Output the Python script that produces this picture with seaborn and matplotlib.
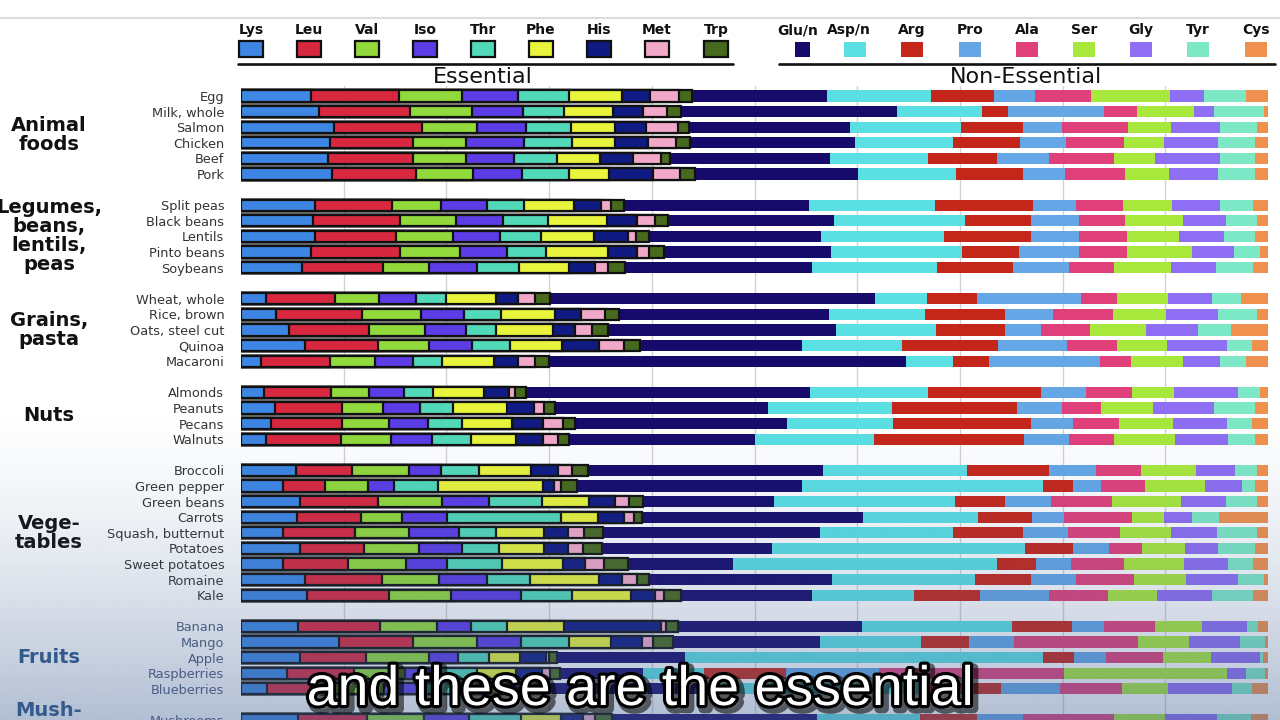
import numpy as np
import pandas as pd
import matplotlib
matplotlib.use("Agg")
import matplotlib.pyplot as plt
import seaborn as sns
from matplotlib.patches import Rectangle
from matplotlib.lines import Line2D
import matplotlib.patheffects as pe
import matplotlib.transforms as mtrans

# ---------------- data ----------------
groups = ["Animal\nfoods", "Legumes,\nbeans,\nlentils,\npeas", "Grains,\npasta", "Nuts",
          "Vege-\ntables", "Fruits", "Mush-\nrooms"]
group_sizes = [6, 5, 5, 4, 9, 5, 1]
foods = ["Egg", "Milk, whole", "Salmon", "Chicken", "Beef", "Pork",
         "Split peas", "Black beans", "Lentils", "Pinto beans", "Soybeans",
         "Wheat, whole", "Rice, brown", "Oats, steel cut", "Quinoa", "Macaroni",
         "Almonds", "Peanuts", "Pecans", "Walnuts",
         "Broccoli", "Green pepper", "Green beans", "Carrots", "Squash, butternut",
         "Potatoes", "Sweet potatoes", "Romaine", "Kale",
         "Banana", "Mango", "Apple", "Raspberries", "Blueberries",
         "Mushrooms"]

essential = ["Lys", "Leu", "Val", "Iso", "Thr", "Phe", "His", "Met", "Trp"]
nonessential = ["Glu/n", "Asp/n", "Arg", "Pro", "Ala", "Ser", "Gly", "Tyr", "Cys"]

lys = [6.8, 7.6, 9.1, 8.7, 8.5, 8.9, 7.2, 7.0, 7.2, 6.8, 5.9, 2.4, 3.4, 4.7, 6.2, 2.0,
       2.2, 3.3, 2.9, 2.4, 5.4, 4.1, 5.8, 5.5, 4.1, 5.8, 4.1, 6.2, 6.4, 5.6, 9.6, 5.8, 4.5, 2.5, 5.0]
leu = [8.6, 8.9, 8.6, 8.0, 8.2, 8.2, 7.5, 8.5, 7.9, 8.7, 7.9, 6.8, 8.4, 7.8, 7.1, 6.7,
       6.6, 6.5, 6.9, 7.3, 5.5, 4.1, 7.6, 6.2, 7.0, 6.2, 6.4, 7.6, 8.0, 8.0, 7.3, 6.4, 6.5, 6.5, 6.0]
val = [6.1, 6.1, 5.3, 5.2, 5.2, 5.5, 4.8, 5.5, 5.5, 5.8, 4.5, 4.3, 5.8, 5.5, 5.0, 4.4,
       3.7, 4.0, 4.6, 4.9, 5.5, 4.2, 6.2, 4.0, 5.3, 5.4, 5.6, 5.5, 6.1, 5.6, 6.2, 6.2, 5.0, 5.0, 5.0]
iso = [5.5, 4.9, 4.8, 5.7, 4.7, 4.8, 4.5, 4.6, 4.6, 4.6, 4.7, 3.6, 4.2, 4.0, 4.2, 3.7,
       3.4, 3.6, 3.8, 4.0, 3.2, 2.5, 4.6, 4.4, 4.9, 4.2, 4.0, 4.7, 6.8, 3.3, 4.4, 2.9, 3.5, 4.0, 4.0]
thr = [4.9, 4.0, 4.4, 4.6, 4.2, 4.6, 3.6, 4.4, 4.0, 3.8, 4.1, 2.9, 3.6, 2.9, 3.7, 2.8,
       2.8, 3.3, 3.3, 3.8, 3.7, 4.3, 5.2, 11.1, 3.6, 3.6, 5.4, 4.2, 5.0, 3.5, 4.7, 3.0, 3.5, 3.5, 4.5]
phe = [5.2, 4.8, 4.3, 4.2, 4.2, 3.9, 4.9, 5.7, 5.2, 6.1, 4.9, 4.9, 5.2, 5.5, 5.0, 5.1,
       5.0, 5.2, 4.9, 4.4, 5.1, 10.2, 4.6, 3.6, 4.7, 4.4, 6.0, 6.7, 5.7, 5.6, 4.1, 3.0, 3.8, 3.8, 3.5]
his = [2.7, 3.0, 3.0, 3.2, 3.2, 4.3, 2.6, 2.9, 3.3, 2.8, 2.5, 2.2, 2.6, 2.2, 3.6, 2.4,
       2.4, 2.7, 3.0, 2.6, 2.6, 1.1, 2.5, 2.5, 2.3, 2.4, 2.1, 2.3, 2.4, 9.5, 3.0, 2.6, 2.5, 2.0, 2.0]
met = [2.8, 2.3, 3.1, 2.8, 2.7, 2.6, 1.0, 1.8, 0.8, 1.2, 1.3, 1.6, 2.3, 1.6, 2.5, 1.6,
       0.6, 0.9, 1.9, 1.5, 1.4, 0.7, 1.4, 1.0, 1.6, 1.4, 1.9, 1.4, 0.8, 0.5, 1.1, 0.3, 0.8, 1.2, 1.0]
trp = [1.3, 1.4, 1.1, 1.3, 0.9, 1.5, 1.2, 1.3, 1.2, 1.4, 1.6, 1.5, 1.4, 1.6, 1.5, 1.4,
       1.1, 1.1, 1.2, 1.1, 1.6, 1.5, 1.4, 0.8, 1.8, 1.9, 2.3, 1.2, 1.7, 1.2, 2.0, 0.8, 1.0, 1.0, 1.5]
glu = [13.2, 21.1, 15.7, 16.1, 15.6, 15.9, 18.1, 16.2, 16.8, 16.3, 18.3, 31.7, 20.5, 22.3, 15.8, 34.8,
       27.7, 20.8, 20.6, 18.1, 23.0, 21.9, 12.8, 21.5, 21.2, 16.6, 10.3, 17.9, 12.8, 18.0, 14.4, 12.5, 8.0, 17.0, 18.0]
asp = [10.1, 8.3, 10.8, 9.5, 9.5, 9.6, 12.2, 12.7, 12.0, 12.8, 12.1, 5.1, 9.3, 9.7, 9.7, 4.6,
       11.5, 12.1, 10.3, 11.6, 14.0, 23.5, 17.6, 11.2, 13.0, 24.7, 25.8, 13.9, 9.9, 14.6, 9.9, 35.1, 6.0, 20.0, 9.0]
arg = [6.1, 2.5, 6.1, 6.6, 6.7, 6.5, 9.6, 6.5, 8.4, 5.5, 7.4, 4.9, 7.8, 6.7, 9.3, 3.6,
       11.0, 12.1, 13.4, 14.6, 8.1, 2.9, 4.9, 5.3, 6.8, 4.7, 3.8, 5.5, 6.4, 5.9, 4.7, 3.0, 8.0, 7.8, 5.0]
pro = [4.0, 9.4, 3.8, 4.4, 5.1, 4.1, 4.2, 4.7, 4.7, 5.9, 5.5, 10.1, 4.7, 3.6, 6.7, 10.8,
       4.4, 4.4, 4.1, 4.4, 4.6, 2.7, 4.5, 3.1, 4.4, 3.6, 3.4, 4.4, 6.8, 3.2, 4.4, 3.1, 9.0, 5.8, 4.0]
ala = [5.5, 3.2, 6.4, 5.7, 6.3, 5.8, 4.6, 4.4, 4.7, 4.7, 4.4, 3.6, 5.9, 4.7, 4.9, 3.0,
       4.4, 3.8, 4.5, 4.4, 4.4, 4.3, 6.0, 6.6, 5.1, 3.2, 5.2, 5.6, 5.7, 4.9, 12.2, 5.6, 18.0, 6.0, 8.0]
ser = [7.7, 5.6, 4.2, 3.9, 4.0, 4.3, 4.7, 5.7, 5.0, 6.3, 5.5, 4.9, 5.1, 5.5, 4.9, 5.1,
       4.1, 5.1, 5.3, 5.9, 5.4, 5.9, 6.7, 3.2, 4.9, 4.2, 5.9, 5.1, 4.8, 4.6, 5.0, 4.7, 15.9, 4.5, 4.5]
gly = [3.3, 1.9, 4.8, 5.2, 6.3, 4.8, 4.7, 4.2, 4.4, 4.1, 4.4, 4.3, 5.1, 5.1, 5.8, 3.6,
       6.3, 5.9, 5.2, 5.2, 3.8, 3.6, 4.4, 2.7, 4.5, 3.2, 4.3, 5.1, 5.3, 4.4, 5.0, 4.8, 1.9, 6.3, 4.5]
tyr = [4.1, 4.9, 3.6, 3.6, 3.4, 3.6, 3.2, 3.0, 3.0, 2.5, 3.6, 2.9, 3.8, 3.2, 2.4, 2.6,
       2.1, 4.0, 2.4, 2.6, 2.1, 1.2, 3.0, 2.6, 3.9, 3.6, 2.4, 2.5, 4.0, 1.1, 2.4, 0.3, 1.8, 1.9, 3.0]
cys = [2.1, 0.4, 1.1, 1.3, 1.3, 1.3, 1.5, 1.1, 1.3, 0.8, 1.5, 2.6, 1.1, 3.6, 1.6, 2.1,
       0.8, 1.3, 1.6, 1.3, 1.1, 1.3, 1.1, 4.8, 1.1, 1.3, 1.5, 0.4, 1.5, 1.0, 0.3, 0.5, 0.3, 1.6, 1.5]

ess_colors = ["#3d86e3", "#d8283f", "#92d93c", "#5b3ce6", "#52d9b9",
              "#e8f53c", "#0f1a82", "#f2a9c9", "#486a1e"]
non_colors = ["#160b6b", "#5adfe3", "#c5261a", "#64a6e6", "#e0407a",
              "#a8e83c", "#8e6ef2", "#7de8c6", "#f0904e"]

# ---------------- setup ----------------
sns.set_theme(style="white")
plt.rcParams["font.family"] = ["DejaVu Sans"]

W, H = 1280, 720
fig = plt.figure(figsize=(W / 100, H / 100), dpi=100)
fig.patch.set_facecolor("white")


def fx(px):
    return px / W


def fy(py):
    return 1 - py / H


# row positions (one blank row between groups)
pos, centers = [], []
p = 0
for n in group_sizes:
    centers.append(p + (n - 1) / 2)
    pos.extend(range(p, p + n))
    p += n + 1

ROW_PX, Y0_PX, TOP_PX = 15.65, 96.0, 86.0
X0_PX, X1_PX = 241.0, 1268.0
ax = fig.add_axes([fx(X0_PX), 0, (X1_PX - X0_PX) / W, (H - TOP_PX) / H])
ax.set_facecolor("none")

series = [lys, leu, val, iso, thr, phe, his, met, trp,
          glu, asp, arg, pro, ala, ser, gly, tyr, cys]
colors = ess_colors + non_colors
M = np.array(series, dtype=float).T
M = M / M.sum(axis=1, keepdims=True) * 100
cum = np.cumsum(M, axis=1)

for k in range(len(series) - 1, -1, -1):
    df = pd.DataFrame({"pos": pos, "cum": cum[:, k]})
    is_ess = k < len(essential)
    sns.barplot(data=df, x="cum", y="pos", orient="h", native_scale=True,
                color=colors[k], saturation=1, errorbar=None, width=0.72,
                edgecolor="#111111" if is_ess else "none",
                linewidth=1.6 if is_ess else 0, ax=ax, zorder=2)

ax.set_xlim(0, 100)
ax.set_ylim((H - Y0_PX) / ROW_PX, -(Y0_PX - TOP_PX) / ROW_PX)
ax.set_xticks(np.arange(10, 100, 10))
ax.set_axisbelow(True)
ax.xaxis.grid(True, color="#d2d2d2", lw=1.0)
ax.yaxis.grid(False)
ax.tick_params(axis="x", length=0, labelbottom=False)
ax.set_yticks(pos)
ax.set_yticklabels(foods, fontsize=9.3)
n_fruit_start = sum(group_sizes[:5])
for i, t in enumerate(ax.get_yticklabels()):
    t.set_color("#4a5a7c" if i >= n_fruit_start else "#333333")
ax.tick_params(axis="y", length=0, pad=12)
ax.set_xlabel("")
ax.set_ylabel("")
for s in ax.spines.values():
    s.set_visible(False)

# group labels
blend = mtrans.blended_transform_factory(fig.transFigure, ax.transData)
for gi, (g, c) in enumerate(zip(groups, centers)):
    col = "#2a5588" if gi >= 5 else "#111111"
    ax.text(fx(49), c, g, transform=blend, ha="center", va="center",
            fontsize=14, fontweight="bold", linespacing=1.0, color=col)

# ---------------- legend ----------------
ess_x = [251, 309, 367, 425, 483, 541, 599, 657, 716]
non_x = [802, 855, 912, 970, 1027, 1084, 1141, 1198, 1256]
non_lab_x = [798, 849, 912, 970, 1027, 1084, 1141, 1198, 1256]
for name, x, col in zip(essential, ess_x, ess_colors):
    fig.text(fx(x), fy(30), name, ha="center", va="center", fontsize=10,
             fontweight="bold", color="#111111")
    fig.add_artist(Rectangle((fx(x - 12), fy(57)), 24 / W, 16 / H,
                             transform=fig.transFigure, facecolor=col,
                             edgecolor="#111111", lw=1.6))
for name, x, lx, col in zip(nonessential, non_x, non_lab_x, non_colors):
    fig.text(fx(lx), fy(30), name, ha="center", va="center", fontsize=10,
             fontweight="bold", color="#111111")
    w = 15 if name == "Glu/n" else 22
    fig.add_artist(Rectangle((fx(x - w / 2), fy(57)), w / W, 15 / H,
                             transform=fig.transFigure, facecolor=col,
                             edgecolor="none"))

fig.add_artist(Line2D([fx(238), fx(733)], [fy(64), fy(64)], color="#111111",
                      lw=1.9, transform=fig.transFigure))
fig.add_artist(Line2D([fx(779), fx(1275)], [fy(64), fy(64)], color="#111111",
                      lw=1.9, transform=fig.transFigure))
fig.add_artist(Line2D([0, 1], [fy(18), fy(18)], color="#dddddd",
                      lw=1.5, transform=fig.transFigure))
fig.text(fx(483), fy(77), "Essential", ha="center", va="center", fontsize=16,
         color="#111111")
fig.text(fx(1026), fy(77), "Non-Essential", ha="center", va="center", fontsize=16,
         color="#111111")

# ---------------- fading overlay toward the bottom ----------------
ov = fig.add_axes([0, 0, 1, 1], zorder=50)
ov.axis("off")
ys = np.arange(H)
alpha = 0.42 * np.clip((ys - 400) / 320.0, 0, 1) ** 1.5
img = np.zeros((H, 2, 4))
img[..., 0] = 70 / 255
img[..., 1] = 100 / 255
img[..., 2] = 150 / 255
img[..., 3] = alpha[:, None]
ov.imshow(img, aspect="auto", extent=[0, 1, 0, 1], origin="upper",
          interpolation="bilinear")
ov.set_xlim(0, 1)
ov.set_ylim(0, 1)

# subtitle caption
fig.text(fx(640), fy(705), "and these are the essential", ha="center",
         va="baseline", fontsize=40, color="white", zorder=60,
         family=["Liberation Sans", "DejaVu Sans"],
         path_effects=[pe.Stroke(linewidth=7, foreground="black", alpha=0.55,
                                 offset=(2.5, -2.5)),
                       pe.Stroke(linewidth=4.5, foreground="black"),
                       pe.Normal()])

fig.savefig("out.png", dpi=100)
